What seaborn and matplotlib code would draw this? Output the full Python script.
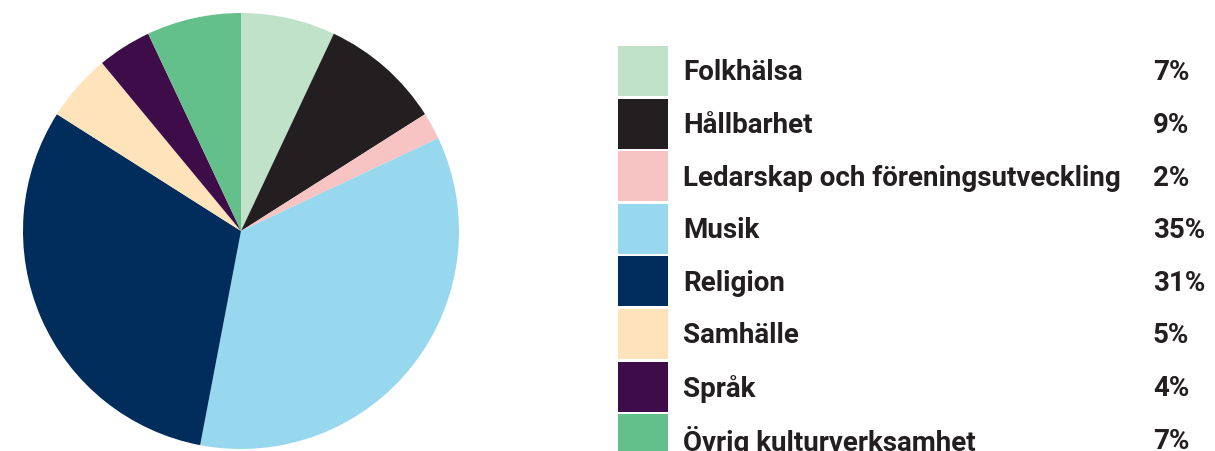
import numpy as np
import pandas as pd
import seaborn as sns
import matplotlib.pyplot as plt
from matplotlib.patches import Rectangle

# data
categories = ["Folkhälsa", "Hållbarhet", "Ledarskap och föreningsutveckling", "Musik",
              "Religion", "Samhälle", "Språk", "Övrig kulturverksamhet"]
shares = [7, 9, 2, 35, 31, 5, 4, 7]
colors = ["#bfe2c9", "#231f20", "#f7c3c3", "#97d8ee",
          "#002d5c", "#fee3bb", "#3f0c4a", "#63c08b"]

df = pd.DataFrame({"kategori": categories, "andel": shares, "farg": colors})

sns.set_theme(style="white")
plt.rcParams['font.family'] = ['Roboto', 'DejaVu Sans']

W, H = 1215, 452
fig = plt.figure(figsize=(W / 100, H / 100), dpi=100)
fig.patch.set_facecolor("white")

# pie: centre ~(241, 231) px, radius ~218 px
cx, cy, r = 241, 232, 218
ax = fig.add_axes([(cx - r) / W, (H - cy - r) / H, 2 * r / W, 2 * r / H])
ax.pie(df["andel"], colors=df["farg"], startangle=90, counterclock=False,
       radius=1, wedgeprops=dict(linewidth=0))
ax.set_xlim(-1, 1)
ax.set_ylim(-1, 1)
ax.set_aspect("equal")
ax.axis("off")

# legend drawn on an overlay axes in pixel units
lax = fig.add_axes([0, 0, 1, 1])
lax.set_xlim(0, W)
lax.set_ylim(H, 0)
lax.axis("off")

y0, step = 72, 52.6
for i, row in df.iterrows():
    yc = y0 + i * step
    lax.add_patch(Rectangle((618, yc - 25), 50, 50, facecolor=row["farg"],
                            edgecolor="none"))
    lax.text(683, yc + 1, row["kategori"], fontsize=20, fontweight="bold",
             color="#231f20", va="center", ha="left")
    lax.text(1153, yc + 1, f"{row['andel']}%", fontsize=20, fontweight="bold",
             color="#231f20", va="center", ha="left")

fig.savefig("out.png", dpi=100, facecolor="white")
